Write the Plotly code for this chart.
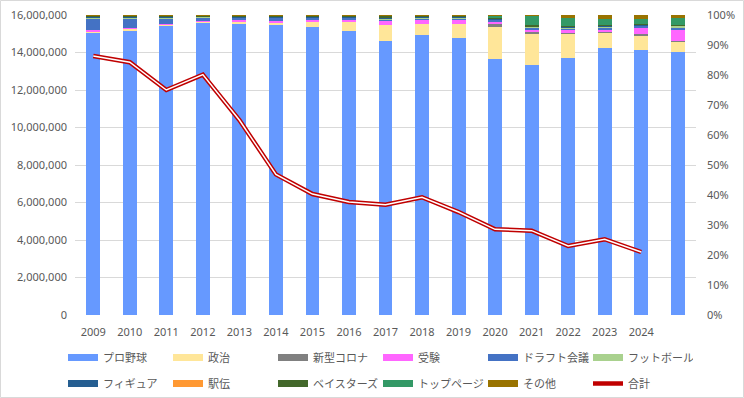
import plotly.graph_objects as go

# ---- data ----
year_labels = ["2009", "2010", "2011", "2012", "2013", "2014", "2015", "2016",
               "2017", "2018", "2019", "2020", "2021", "2022", "2023", "2024"]
bar_slots = 17  # 2009..2025 (last bar has no tick label)

pro_yakyu = [94.4, 95.0, 97.0, 97.8, 97.2, 97.0, 96.3, 95.2, 91.4, 93.9, 92.8, 85.3, 83.7, 85.8, 89.2, 88.6, 87.8]
seiji     = [0.4, 0.8, 0.3, 0.5, 1.0, 1.0, 2.0, 3.1, 5.4, 3.7, 4.7, 10.8, 10.2, 8.1, 5.2, 4.8, 3.7]
corona    = [0, 0, 0, 0, 0, 0, 0, 0, 0, 0, 0, 1.1, 0.9, 0.45, 0.3, 0.55, 0.2]
juken     = [0.4, 0.1, 0.1, 0.1, 0.5, 0.55, 0.45, 0.45, 1.45, 1.2, 1.3, 0.8, 0.8, 1.0, 1.0, 1.9, 3.7]
draft     = [4.0, 3.4, 1.9, 1.1, 0.6, 0.9, 0.7, 0.7, 0.5, 0.5, 0.5, 0.5, 0.5, 0.55, 0.65, 0.8, 0.8]
football  = [0.3, 0.3, 0.4, 0.3, 0.2, 0.2, 0.2, 0.2, 0.4, 0.3, 0.3, 0.2, 0.3, 0.3, 0.2, 0.2, 0.4]
figure    = [0.2, 0.2, 0.2, 0.2, 0.3, 0.3, 0.3, 0.3, 0.3, 0.3, 0.3, 0.2, 0.2, 0.2, 0.3, 0.3, 0.2]
ekiden    = [0.05, 0.05, 0.05, 0.05, 0.05, 0.05, 0.05, 0.05, 0.05, 0.05, 0.05, 0.05, 0.05, 0.05, 0.05, 0.05, 0.05]
baystars  = [0.3, 0.3, 0.3, 0.2, 0.2, 0.2, 0.2, 0.2, 0.5, 0.3, 0.2, 0.3, 0.2, 0.2, 0.2, 0.2, 0.2]
toppage   = [0, 0, 0, 0, 0, 0, 0, 0, 0, 0, 0, 0.6, 3.2, 2.7, 2.0, 1.55, 2.2]
sonota    = [0.2, 0.2, 0.2, 0.2, 0.2, 0.2, 0.2, 0.2, 0.2, 0.2, 0.2, 0.2, 0.3, 0.9, 1.3, 1.3, 1.0]

total = [13810000, 13480000, 12000000, 12820000, 10400000, 7500000, 6450000, 6030000,
         5880000, 6280000, 5490000, 4570000, 4500000, 3680000, 4040000, 3360000]

bar_series = [
    ("プロ野球", pro_yakyu, "#6699FF"),
    ("政治", seiji, "#FFE699"),
    ("新型コロナ", corona, "#808080"),
    ("受験", juken, "#FF66FF"),
    ("ドラフト会議", draft, "#4472C4"),
    ("フットボール", football, "#A9D18E"),
    ("フィギュア", figure, "#255E91"),
    ("駅伝", ekiden, "#FF9933"),
    ("ベイスターズ", baystars, "#43682B"),
    ("トップページ", toppage, "#339966"),
    ("その他", sonota, "#997300"),
]

FONT = "Noto Sans, Noto Sans CJK JP"
TXT = "#595959"
W, H = 744, 398
ML, MR, MT, MB = 75, 48, 15, 83
PW, PH = W - ML - MR, H - MT - MB

fig = go.Figure()
x_bar = list(range(bar_slots))
for i, (name, vals, col) in enumerate(bar_series):
    fig.add_trace(go.Bar(
        x=x_bar, y=vals, name=name, marker=dict(color=col, line=dict(width=0)),
        yaxis="y", showlegend=False,
    ))
# legend entries (wide colour swatches like the original)
for i, (name, vals, col) in enumerate(bar_series):
    fig.add_trace(go.Scatter(
        x=[None], y=[None], name=name, mode="lines", yaxis="y",
        line=dict(color=col, width=7), legend="legend" if i < 6 else "legend2",
        hoverinfo="skip",
    ))

x_line = list(range(len(total)))
fig.add_trace(go.Scatter(
    x=x_line, y=total, name="合計", mode="lines", yaxis="y2",
    line=dict(color="#C00000", width=4.5), legend="legend2",
))
fig.add_trace(go.Scatter(
    x=x_line, y=total, name="合計", mode="lines", yaxis="y2",
    line=dict(color="#FFFFFF", width=1.5), showlegend=False, hoverinfo="skip",
))

def py(p):
    return (MT + PH - p) / PH

def px(p):
    return (p - ML) / PW

legend_common = dict(orientation="h", xanchor="left", yanchor="top",
                     entrywidth=60, entrywidthmode="pixels",
                     font=dict(size=11, color=TXT), bgcolor="rgba(0,0,0,0)",
                     traceorder="normal")

fig.update_layout(
    width=W, height=H,
    margin=dict(l=ML, r=MR, t=MT, b=MB, autoexpand=False),
    paper_bgcolor="white", plot_bgcolor="white",
    font=dict(family=FONT, size=11, color=TXT),
    barmode="stack", barnorm="fraction", bargap=0.62,
    xaxis=dict(range=[-0.5, bar_slots - 0.5], tickvals=list(range(len(year_labels))),
               ticktext=year_labels, showgrid=False, zeroline=False, showline=False,
               ticks="", ticklabelstandoff=9, tickfont=dict(size=11, color=TXT)),
    yaxis=dict(range=[0, 1], dtick=0.1, tickformat=".0%", side="right", showgrid=False,
               zeroline=False, showline=False, ticks="", ticklabelstandoff=10,
               tickfont=dict(size=11, color=TXT)),
    yaxis2=dict(range=[0, 16000000], dtick=2000000, tickformat=",", side="left",
                overlaying="y", showgrid=True, gridcolor="#D9D9D9", gridwidth=1,
                zeroline=False, showline=False, ticks="", ticklabelstandoff=7,
                tickfont=dict(size=11, color=TXT)),
    legend=dict(x=px(63), y=py(343), **legend_common),
    legend2=dict(x=px(63), y=py(369), **legend_common),
    shapes=[dict(type="rect", xref="paper", yref="paper",
                 x0=px(0.5), x1=px(W - 0.5), y0=py(H - 0.5), y1=py(0.5),
                 line=dict(color="#D9D9D9", width=1), fillcolor="rgba(0,0,0,0)", layer="below")],
)

fig.write_html("out.html", config={"displayModeBar": False},
               post_script="document.body.style.margin='0';")
